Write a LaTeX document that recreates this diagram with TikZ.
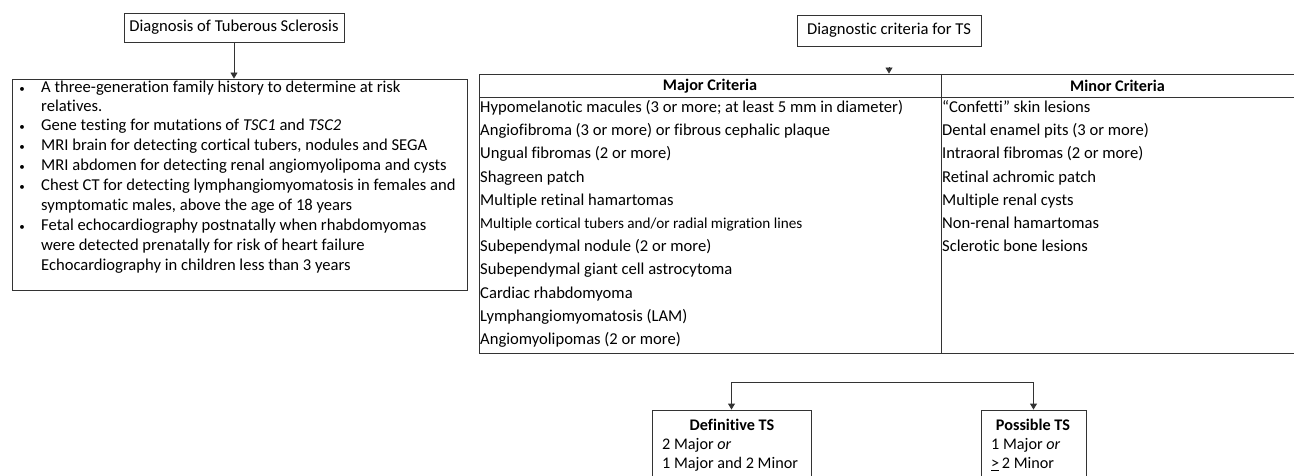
\documentclass[tikz,border=0pt]{standalone}
\usepackage{fontspec}
\setmainfont{Carlito}[Ligatures={TeX,NoCommon}]
\usetikzlibrary{arrows.meta}
\begin{document}
\begin{tikzpicture}[x=1pt,y=-1pt,
  line/.style={draw=black!80,line width=0.9pt},
  tri/.style={-{Triangle[width=7pt,length=6pt]}},
  box/.style={line,rectangle,inner sep=0pt,font=\fontsize{16.6}{19.8}\selectfont},
  txt/.style={font=\fontsize{16.6}{19.8}\selectfont,inner sep=0pt,anchor=mid west},
  btxt/.style={font=\fontsize{16.2}{19.8}\selectfont,inner sep=0pt,anchor=mid west},
  stxt/.style={font=\fontsize{15.2}{18}\selectfont,inner sep=0pt,anchor=mid west},
  hdr/.style={font=\fontsize{16.2}{19.8}\selectfont\bfseries,inner sep=0pt},
  bul/.style={font=\fontsize{11}{12}\selectfont,inner sep=0pt},
]
\useasboundingbox (0,0) rectangle (1294,476);

% ---------- left part ----------
\node[box,minimum width=220pt,minimum height=29pt] (diag) at (234,27.5) {Diagnosis of Tuberous Sclerosis};
\node[box,minimum width=455pt,minimum height=211pt] (tests) at (239.5,184.5) {};
\draw[line,tri] (diag.south) -- (diag.south |- tests.north);

\foreach \y in {90,128,148,168,188,228}
  \node[bul] at (22,\y) {\textbullet};
\node[txt] (l1) at (41,90)  {A three-generation family history to determine at risk};
\node[txt] (l2) at (41,109) {relatives.};
\node[txt] (l3) at (41,128) {Gene testing for mutations of \textit{TSC1} and \textit{TSC2}};
\node[txt] (l4) at (41,148) {MRI brain for detecting cortical tubers, nodules and SEGA};
\node[txt] (l5) at (41,168) {MRI abdomen for detecting renal angiomyolipoma and cysts};
\node[txt] (l6) at (41,188) {Chest CT for detecting lymphangiomyomatosis in females and};
\node[txt] (l7) at (41,208) {symptomatic males, above the age of 18 years};
\node[txt] (l8) at (41,228) {Fetal echocardiography postnatally when rhabdomyomas};
\node[txt] (l9) at (41,248) {were detected prenatally for risk of heart failure};
\node[txt] (l10) at (41,268) {Echocardiography in children less than 3 years};

% ---------- right part ----------
\node[box,minimum width=184pt,minimum height=31pt] (crit) at (889,30.5) {Diagnostic criteria for TS};
\node[line,rectangle,inner sep=0pt,minimum width=821pt,minimum height=279pt] (tbl) at (889.5,213.5) {};
\draw[line,tri,shorten <=21pt] (crit.south) -- (crit.south |- tbl.north);
\draw[line] (479,97) -- (1294,97);
\draw[line] (941,74) -- (941,353);

\node[hdr] (major) at (710,86) {Major Criteria};
\node[hdr] (minor) at (1117.5,86) {Minor Criteria};

\node[txt] (m1)  at (480,110) {Hypomelanotic macules (3 or more; at least 5 mm in diameter)};
\node[txt] (m2)  at (480,133) {Angiofibroma (3 or more) or fibrous cephalic plaque};
\node[txt] (m3)  at (480,156.5) {Ungual fibromas (2 or more)};
\node[txt] (m4)  at (480,180) {Shagreen patch};
\node[txt] (m5)  at (480,203) {Multiple retinal hamartomas};
\node[stxt] (m6) at (480,226) {Multiple cortical tubers and/or radial migration lines};
\node[txt] (m7)  at (480,249.5) {Subependymal nodule (2 or more)};
\node[txt] (m8)  at (480,272.5) {Subependymal giant cell astrocytoma};
\node[txt] (m9)  at (480,296) {Cardiac rhabdomyoma};
\node[txt] (m10) at (480,319) {Lymphangiomyomatosis (LAM)};
\node[txt] (m11) at (480,342) {Angiomyolipomas (2 or more)};

\node[txt] (n1) at (942,110) {“Confetti” skin lesions};
\node[txt] (n2) at (942,133) {Dental enamel pits (3 or more)};
\node[txt] (n3) at (942,156.5) {Intraoral fibromas (2 or more)};
\node[txt] (n4) at (942,180) {Retinal achromic patch};
\node[txt] (n5) at (942,203) {Multiple renal cysts};
\node[txt] (n6) at (942,226) {Non-renal hamartomas};
\node[txt] (n7) at (942,249.5) {Sclerotic bone lesions};

% ---------- bottom ----------
\node[line,rectangle,inner sep=0pt,minimum width=159pt,minimum height=90pt] (def) at (731.5,455) {};
\node[line,rectangle,inner sep=0pt,minimum width=105pt,minimum height=90pt] (pos) at (1033.5,455) {};
\draw[line,{Triangle[width=7pt,length=6pt]}-{Triangle[width=7pt,length=6pt]}] (def.north) -- ++(0,-27) -| (pos.north);

\node[hdr] (deft) at (732,425) {Definitive TS};
\node[btxt] (d1) at (662,447) {2 Major \textit{or}};
\node[btxt] (d2) at (662,466) {1 Major and 2 Minor};
\node[hdr] (post) at (1033,425) {Possible TS};
\node[btxt] (p1) at (991,447) {1 Major \textit{or}};
\node[btxt] (p2) at (991,466) {\underline{>}\,2 Minor};
\end{tikzpicture}
\end{document}
